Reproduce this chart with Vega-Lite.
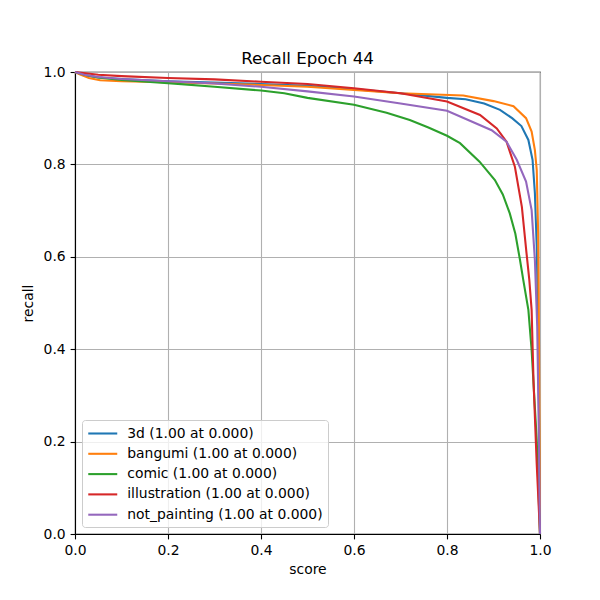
{
  "$schema": "https://vega.github.io/schema/vega-lite/v6.json",
  "width": 465,
  "height": 462,
  "autosize": {"type": "none"},
  "padding": {"left": 75, "top": 72, "right": 60, "bottom": 66},
  "background": "white",
  "title": {"text": "Recall Epoch 44", "font": "DejaVu Sans", "fontSize": 16.7, "fontWeight": "normal", "color": "black", "offset": -3, "anchor": "middle"},
  "config": {
    "view": {"stroke": "black", "strokeWidth": 1.1},
    "axis": {
      "labelFont": "DejaVu Sans", "labelFontSize": 13.9, "labelColor": "black",
      "titleFont": "DejaVu Sans", "titleFontSize": 13.9, "titleFontWeight": "normal", "titleColor": "black",
      "tickColor": "black", "tickSize": 4.9, "tickWidth": 1.1, "labelPadding": 4.9,
      "domainColor": "black", "domainWidth": 1.1, "labelFlush": false,
      "gridColor": "#b0b0b0", "gridWidth": 1.1, "gridOpacity": 1
    },
    "legend": {"labelFont": "DejaVu Sans"}
  },
  "data": {"values": [
    {"label": "3d (1.00 at 0.000)", "score": 0.0, "recall": 1.0},
    {"label": "3d (1.00 at 0.000)", "score": 0.02, "recall": 0.993},
    {"label": "3d (1.00 at 0.000)", "score": 0.05, "recall": 0.988},
    {"label": "3d (1.00 at 0.000)", "score": 0.1, "recall": 0.985},
    {"label": "3d (1.00 at 0.000)", "score": 0.2, "recall": 0.98},
    {"label": "3d (1.00 at 0.000)", "score": 0.3, "recall": 0.977},
    {"label": "3d (1.00 at 0.000)", "score": 0.4, "recall": 0.974},
    {"label": "3d (1.00 at 0.000)", "score": 0.5, "recall": 0.97},
    {"label": "3d (1.00 at 0.000)", "score": 0.6, "recall": 0.963},
    {"label": "3d (1.00 at 0.000)", "score": 0.7, "recall": 0.954},
    {"label": "3d (1.00 at 0.000)", "score": 0.8, "recall": 0.944},
    {"label": "3d (1.00 at 0.000)", "score": 0.84, "recall": 0.941},
    {"label": "3d (1.00 at 0.000)", "score": 0.88, "recall": 0.932},
    {"label": "3d (1.00 at 0.000)", "score": 0.914, "recall": 0.918},
    {"label": "3d (1.00 at 0.000)", "score": 0.94, "recall": 0.9},
    {"label": "3d (1.00 at 0.000)", "score": 0.96, "recall": 0.883},
    {"label": "3d (1.00 at 0.000)", "score": 0.975, "recall": 0.853},
    {"label": "3d (1.00 at 0.000)", "score": 0.984, "recall": 0.81},
    {"label": "3d (1.00 at 0.000)", "score": 0.989, "recall": 0.738},
    {"label": "3d (1.00 at 0.000)", "score": 0.993, "recall": 0.622},
    {"label": "3d (1.00 at 0.000)", "score": 0.996, "recall": 0.45},
    {"label": "3d (1.00 at 0.000)", "score": 0.998, "recall": 0.25},
    {"label": "3d (1.00 at 0.000)", "score": 1.0, "recall": 0.0},

    {"label": "bangumi (1.00 at 0.000)", "score": 0.0, "recall": 1.0},
    {"label": "bangumi (1.00 at 0.000)", "score": 0.01, "recall": 0.995},
    {"label": "bangumi (1.00 at 0.000)", "score": 0.03, "recall": 0.987},
    {"label": "bangumi (1.00 at 0.000)", "score": 0.054, "recall": 0.982},
    {"label": "bangumi (1.00 at 0.000)", "score": 0.1, "recall": 0.98},
    {"label": "bangumi (1.00 at 0.000)", "score": 0.2, "recall": 0.978},
    {"label": "bangumi (1.00 at 0.000)", "score": 0.3, "recall": 0.975},
    {"label": "bangumi (1.00 at 0.000)", "score": 0.4, "recall": 0.972},
    {"label": "bangumi (1.00 at 0.000)", "score": 0.5, "recall": 0.968},
    {"label": "bangumi (1.00 at 0.000)", "score": 0.6, "recall": 0.961},
    {"label": "bangumi (1.00 at 0.000)", "score": 0.7, "recall": 0.954},
    {"label": "bangumi (1.00 at 0.000)", "score": 0.835, "recall": 0.949},
    {"label": "bangumi (1.00 at 0.000)", "score": 0.9, "recall": 0.937},
    {"label": "bangumi (1.00 at 0.000)", "score": 0.943, "recall": 0.926},
    {"label": "bangumi (1.00 at 0.000)", "score": 0.97, "recall": 0.9},
    {"label": "bangumi (1.00 at 0.000)", "score": 0.982, "recall": 0.871},
    {"label": "bangumi (1.00 at 0.000)", "score": 0.989, "recall": 0.831},
    {"label": "bangumi (1.00 at 0.000)", "score": 0.993, "recall": 0.788},
    {"label": "bangumi (1.00 at 0.000)", "score": 0.996, "recall": 0.65},
    {"label": "bangumi (1.00 at 0.000)", "score": 0.998, "recall": 0.4},
    {"label": "bangumi (1.00 at 0.000)", "score": 1.0, "recall": 0.0},

    {"label": "comic (1.00 at 0.000)", "score": 0.0, "recall": 1.0},
    {"label": "comic (1.00 at 0.000)", "score": 0.02, "recall": 0.994},
    {"label": "comic (1.00 at 0.000)", "score": 0.05, "recall": 0.988},
    {"label": "comic (1.00 at 0.000)", "score": 0.1, "recall": 0.983},
    {"label": "comic (1.00 at 0.000)", "score": 0.2, "recall": 0.976},
    {"label": "comic (1.00 at 0.000)", "score": 0.3, "recall": 0.968},
    {"label": "comic (1.00 at 0.000)", "score": 0.4, "recall": 0.96},
    {"label": "comic (1.00 at 0.000)", "score": 0.45, "recall": 0.954},
    {"label": "comic (1.00 at 0.000)", "score": 0.5, "recall": 0.944},
    {"label": "comic (1.00 at 0.000)", "score": 0.6, "recall": 0.929},
    {"label": "comic (1.00 at 0.000)", "score": 0.67, "recall": 0.912},
    {"label": "comic (1.00 at 0.000)", "score": 0.72, "recall": 0.896},
    {"label": "comic (1.00 at 0.000)", "score": 0.76, "recall": 0.88},
    {"label": "comic (1.00 at 0.000)", "score": 0.8, "recall": 0.862},
    {"label": "comic (1.00 at 0.000)", "score": 0.828, "recall": 0.846},
    {"label": "comic (1.00 at 0.000)", "score": 0.87, "recall": 0.806},
    {"label": "comic (1.00 at 0.000)", "score": 0.903, "recall": 0.766},
    {"label": "comic (1.00 at 0.000)", "score": 0.92, "recall": 0.735},
    {"label": "comic (1.00 at 0.000)", "score": 0.935, "recall": 0.694},
    {"label": "comic (1.00 at 0.000)", "score": 0.947, "recall": 0.65},
    {"label": "comic (1.00 at 0.000)", "score": 0.957, "recall": 0.593},
    {"label": "comic (1.00 at 0.000)", "score": 0.964, "recall": 0.55},
    {"label": "comic (1.00 at 0.000)", "score": 0.975, "recall": 0.485},
    {"label": "comic (1.00 at 0.000)", "score": 0.982, "recall": 0.398},
    {"label": "comic (1.00 at 0.000)", "score": 0.993, "recall": 0.203},
    {"label": "comic (1.00 at 0.000)", "score": 1.0, "recall": 0.0},

    {"label": "illustration (1.00 at 0.000)", "score": 0.0, "recall": 1.0},
    {"label": "illustration (1.00 at 0.000)", "score": 0.05, "recall": 0.994},
    {"label": "illustration (1.00 at 0.000)", "score": 0.1, "recall": 0.991},
    {"label": "illustration (1.00 at 0.000)", "score": 0.2, "recall": 0.987},
    {"label": "illustration (1.00 at 0.000)", "score": 0.3, "recall": 0.984},
    {"label": "illustration (1.00 at 0.000)", "score": 0.4, "recall": 0.979},
    {"label": "illustration (1.00 at 0.000)", "score": 0.5, "recall": 0.974},
    {"label": "illustration (1.00 at 0.000)", "score": 0.6, "recall": 0.965},
    {"label": "illustration (1.00 at 0.000)", "score": 0.7, "recall": 0.954},
    {"label": "illustration (1.00 at 0.000)", "score": 0.8, "recall": 0.936},
    {"label": "illustration (1.00 at 0.000)", "score": 0.871, "recall": 0.907},
    {"label": "illustration (1.00 at 0.000)", "score": 0.907, "recall": 0.878},
    {"label": "illustration (1.00 at 0.000)", "score": 0.928, "recall": 0.849},
    {"label": "illustration (1.00 at 0.000)", "score": 0.946, "recall": 0.795},
    {"label": "illustration (1.00 at 0.000)", "score": 0.961, "recall": 0.708},
    {"label": "illustration (1.00 at 0.000)", "score": 0.971, "recall": 0.608},
    {"label": "illustration (1.00 at 0.000)", "score": 0.977, "recall": 0.55},
    {"label": "illustration (1.00 at 0.000)", "score": 0.982, "recall": 0.485},
    {"label": "illustration (1.00 at 0.000)", "score": 0.986, "recall": 0.333},
    {"label": "illustration (1.00 at 0.000)", "score": 0.993, "recall": 0.15},
    {"label": "illustration (1.00 at 0.000)", "score": 1.0, "recall": 0.0},

    {"label": "not_painting (1.00 at 0.000)", "score": 0.0, "recall": 1.0},
    {"label": "not_painting (1.00 at 0.000)", "score": 0.02, "recall": 0.994},
    {"label": "not_painting (1.00 at 0.000)", "score": 0.05, "recall": 0.989},
    {"label": "not_painting (1.00 at 0.000)", "score": 0.1, "recall": 0.985},
    {"label": "not_painting (1.00 at 0.000)", "score": 0.2, "recall": 0.98},
    {"label": "not_painting (1.00 at 0.000)", "score": 0.3, "recall": 0.975},
    {"label": "not_painting (1.00 at 0.000)", "score": 0.4, "recall": 0.968},
    {"label": "not_painting (1.00 at 0.000)", "score": 0.5, "recall": 0.958},
    {"label": "not_painting (1.00 at 0.000)", "score": 0.6, "recall": 0.947},
    {"label": "not_painting (1.00 at 0.000)", "score": 0.7, "recall": 0.932},
    {"label": "not_painting (1.00 at 0.000)", "score": 0.8, "recall": 0.916},
    {"label": "not_painting (1.00 at 0.000)", "score": 0.896, "recall": 0.874},
    {"label": "not_painting (1.00 at 0.000)", "score": 0.928, "recall": 0.849},
    {"label": "not_painting (1.00 at 0.000)", "score": 0.95, "recall": 0.81},
    {"label": "not_painting (1.00 at 0.000)", "score": 0.97, "recall": 0.763},
    {"label": "not_painting (1.00 at 0.000)", "score": 0.982, "recall": 0.701},
    {"label": "not_painting (1.00 at 0.000)", "score": 0.989, "recall": 0.593},
    {"label": "not_painting (1.00 at 0.000)", "score": 0.994, "recall": 0.45},
    {"label": "not_painting (1.00 at 0.000)", "score": 0.997, "recall": 0.25},
    {"label": "not_painting (1.00 at 0.000)", "score": 1.0, "recall": 0.0}
  ]},
  "mark": {"type": "line", "strokeWidth": 2.08, "clip": false},
  "encoding": {
    "x": {"field": "score", "type": "quantitative", "title": "score",
      "scale": {"domain": [0, 1], "nice": false, "zero": false},
      "axis": {"values": [0, 0.2, 0.4, 0.6, 0.8, 1.0], "format": ".1f", "titlePadding": 5}},
    "y": {"field": "recall", "type": "quantitative", "title": "recall",
      "scale": {"domain": [0, 1], "nice": false, "zero": false},
      "axis": {"values": [0, 0.2, 0.4, 0.6, 0.8, 1.0], "format": ".1f", "titlePadding": 8}},
    "color": {"field": "label", "type": "nominal",
      "scale": {
        "domain": ["3d (1.00 at 0.000)", "bangumi (1.00 at 0.000)", "comic (1.00 at 0.000)", "illustration (1.00 at 0.000)", "not_painting (1.00 at 0.000)"],
        "range": ["#1f77b4", "#ff7f0e", "#2ca02c", "#d62728", "#9467bd"]},
      "legend": {"title": null, "orient": "bottom-left", "offset": 7, "padding": 5,
        "symbolType": "M-2,0H2", "symbolStrokeWidth": 2.08, "symbolSize": 210,
        "symbolOffset": 7.25,
        "labelFontSize": 13.9, "labelColor": "black", "labelOffset": 16, "labelLimit": 400,
        "rowPadding": 4.3, "strokeColor": "#cccccc", "fillColor": "rgba(255,255,255,0.8)",
        "cornerRadius": 3}},
    "order": {"field": "score", "type": "quantitative"}
  }
}
